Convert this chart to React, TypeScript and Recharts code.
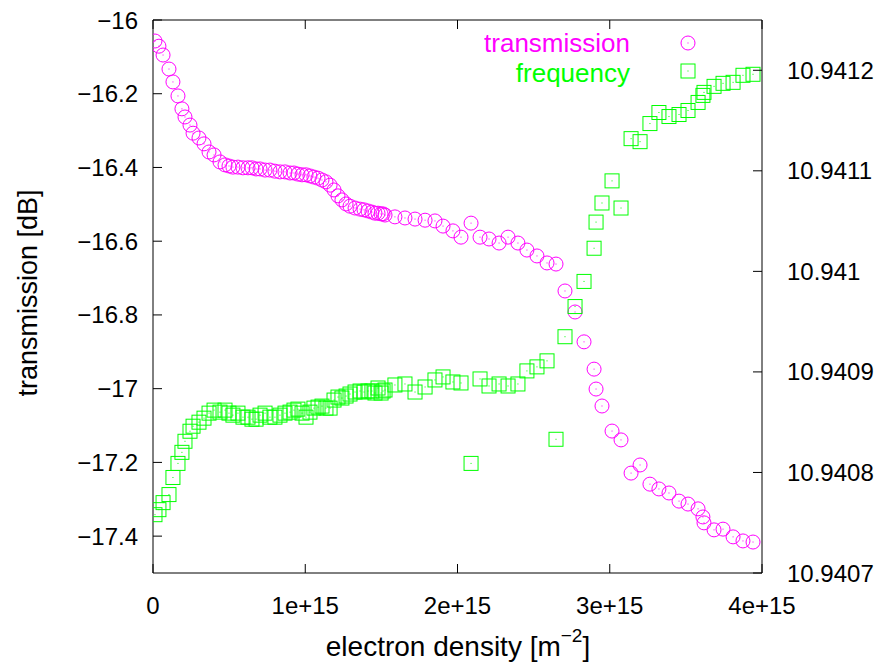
import React from 'react';
import {
  ScatterChart,
  Scatter,
  XAxis,
  YAxis,
  ReferenceArea,
} from 'recharts';

// electron density, in units of 1e15 m^-2 (shared by both series)
const DENSITY = [
  0.013, 0.039, 0.066, 0.105, 0.131, 0.164, 0.19, 0.21, 0.243, 0.263,
  0.302, 0.335, 0.368, 0.401, 0.44, 0.473, 0.499, 0.525, 0.558, 0.591,
  0.624, 0.65, 0.677, 0.703, 0.736, 0.768, 0.801, 0.834, 0.867, 0.9,
  0.926, 0.952, 0.979, 1.005, 1.031, 1.057, 1.084, 1.11, 1.136, 1.163,
  1.189, 1.215, 1.241, 1.268, 1.294, 1.327, 1.36, 1.386, 1.412, 1.438,
  1.458, 1.478, 1.498, 1.511, 1.524, 1.589, 1.655, 1.721, 1.787, 1.852,
  1.905, 1.97, 2.023, 2.089, 2.148, 2.207, 2.273, 2.332, 2.397, 2.456,
  2.522, 2.588, 2.647, 2.706, 2.772, 2.831, 2.897, 2.91, 2.949, 3.015,
  3.074, 3.14, 3.199, 3.264, 3.323, 3.389, 3.455, 3.514, 3.58, 3.612,
  3.619, 3.685, 3.744, 3.81, 3.875, 3.941,
];

// transmission [dB]
const TRANSMISSION = [
  -16.057, -16.071, -16.095, -16.133, -16.168, -16.206, -16.241, -16.263, -16.285, -16.307,
  -16.32, -16.336, -16.358, -16.366, -16.385, -16.393, -16.396, -16.399, -16.399, -16.401,
  -16.401, -16.401, -16.404, -16.404, -16.407, -16.407, -16.41, -16.412, -16.412, -16.415,
  -16.415, -16.418, -16.42, -16.42, -16.423, -16.426, -16.429, -16.434, -16.439, -16.448,
  -16.461, -16.477, -16.488, -16.499, -16.505, -16.51, -16.513, -16.515, -16.518, -16.521,
  -16.524, -16.524, -16.526, -16.526, -16.529, -16.534, -16.537, -16.54, -16.543, -16.545,
  -16.559, -16.572, -16.589, -16.551, -16.589, -16.594, -16.605, -16.589, -16.605, -16.624,
  -16.64, -16.659, -16.662, -16.735, -16.792, -16.873, -16.947, -17.001, -17.047, -17.115,
  -17.139, -17.229, -17.207, -17.259, -17.272, -17.283, -17.305, -17.313, -17.326, -17.348,
  -17.364, -17.383, -17.381, -17.402, -17.413, -17.416,
];

// resonance frequency (right axis)
const FREQUENCY = [
  10.940758, 10.940763, 10.94077, 10.940778, 10.940795, 10.940809, 10.94082, 10.940831, 10.940841, 10.940846,
  10.94085, 10.940854, 10.940859, 10.940862, 10.94086, 10.940862, 10.940859, 10.940857, 10.940859, 10.940855,
  10.940855, 10.940853, 10.940853, 10.940857, 10.940859, 10.940855, 10.940855, 10.940857, 10.940859, 10.94086,
  10.940862, 10.940863, 10.940859, 10.940855, 10.94086, 10.940864, 10.940865, 10.940866, 10.940864, 10.940864,
  10.940872, 10.940875, 10.940874, 10.940876, 10.940878, 10.94088, 10.940881, 10.94088, 10.940881, 10.940881,
  10.940879, 10.940884, 10.940879, 10.940881, 10.940882, 10.940887, 10.940888, 10.94088, 10.940885, 10.940892,
  10.940895, 10.94089, 10.940889, 10.940809, 10.940893, 10.940886, 10.940888, 10.940886, 10.940888, 10.940901,
  10.940905, 10.940911, 10.940833, 10.940935, 10.940965, 10.94099, 10.941023, 10.941049, 10.941068, 10.94109,
  10.941063, 10.941132, 10.941129, 10.941147, 10.941158, 10.941154, 10.941156, 10.94116, 10.941168, 10.941175,
  10.941178, 10.941184, 10.941187, 10.941188, 10.941195, 10.941196,
];

const X_TICKS = [0, 1, 2, 3, 4];
const LEFT_TICKS = [-17.4, -17.2, -17, -16.8, -16.6, -16.4, -16.2, -16];
const RIGHT_TICKS = [10.9407, 10.9408, 10.9409, 10.941, 10.9411, 10.9412];

const MAGENTA = '#ff00ff';
const GREEN = '#00ff00';
const FONT = '"Liberation Sans", Arial, Helvetica, sans-serif';
const FS = 24;
const TITLE_FS = 28;
const LEGEND_FS = 26;

// plot frame (px)
const W = 885;
const H = 663;
const PL = 153;
const PR = 762;
const PT = 20;
const PB = 573;
const TICK = 9;

const transmissionData = DENSITY.map((x, i) => ({ x, y: TRANSMISSION[i] }));
const frequencyData = DENSITY.map((x, i) => ({ x, y: FREQUENCY[i] }));

const minus = (s: string) => s.replace('-', '\u2212');

function CircleMark({ cx, cy }: any) {
  if (cx == null || cy == null) return null;
  return (
    <g>
      <circle cx={cx} cy={cy} r={7} fill="none" stroke={MAGENTA} strokeWidth={1} />
      <rect x={cx - 0.5} y={cy - 0.5} width={1} height={1} fill={MAGENTA} />
    </g>
  );
}

function SquareMark({ cx, cy }: any) {
  if (cx == null || cy == null) return null;
  return (
    <g>
      <rect x={cx - 7} y={cy - 7} width={14} height={14} fill="none" stroke={GREEN} strokeWidth={1} />
      <rect x={cx - 0.5} y={cy - 0.5} width={1} height={1} fill={GREEN} />
    </g>
  );
}

function XTick({ x, payload }: any) {
  const v = payload.value;
  const label = v === 0 ? '0' : `${v}e+15`;
  return (
    <g>
      <line x1={x} x2={x} y1={PB} y2={PB - TICK} stroke="#000" />
      <line x1={x} x2={x} y1={PT} y2={PT + TICK} stroke="#000" />
      <text x={x} y={PB + 32} textAnchor="middle" dominantBaseline="central" fontSize={FS} fontFamily={FONT} fill="#000">
        {label}
      </text>
    </g>
  );
}

function LeftTick({ y, payload }: any) {
  return (
    <g>
      <line x1={PL} x2={PL + TICK} y1={y} y2={y} stroke="#000" />
      <text x={PL - 15} y={y} textAnchor="end" dominantBaseline="central" fontSize={FS} fontFamily={FONT} fill="#000">
        {minus(String(payload.value))}
      </text>
    </g>
  );
}

function RightTick({ y, payload }: any) {
  return (
    <g>
      <line x1={PR} x2={PR - TICK} y1={y} y2={y} stroke="#000" />
      <text x={PR + 25} y={y} textAnchor="start" dominantBaseline="central" fontSize={FS} fontFamily={FONT} fill="#000">
        {String(payload.value)}
      </text>
    </g>
  );
}

export default function App() {
  return (
    <div style={{ position: 'absolute', left: 0, top: 0, width: W, height: H, background: '#fff' }}>
      <ScatterChart width={W} height={H} margin={{ top: PT, right: 0, bottom: 0, left: 0 }}>
        <XAxis
          type="number"
          dataKey="x"
          domain={[0, 4]}
          ticks={X_TICKS}
          allowDataOverflow
          height={H - PB}
          axisLine={false}
          tickLine={false}
          tick={<XTick />}
        />
        <YAxis
          yAxisId="left"
          type="number"
          dataKey="y"
          domain={[-17.5, -16]}
          ticks={LEFT_TICKS}
          allowDataOverflow
          width={PL}
          axisLine={false}
          tickLine={false}
          tick={<LeftTick />}
        />
        <YAxis
          yAxisId="right"
          orientation="right"
          type="number"
          dataKey="y"
          domain={[10.9407, 10.94125]}
          ticks={RIGHT_TICKS}
          allowDataOverflow
          width={W - PR}
          axisLine={false}
          tickLine={false}
          tick={<RightTick />}
        />
        <ReferenceArea
          yAxisId="left"
          x1={0}
          x2={4}
          y1={-17.5}
          y2={-16}
          fill="none"
          stroke="#000"
          strokeWidth={1}
          ifOverflow="visible"
        />
        <Scatter
          name="transmission"
          yAxisId="left"
          data={transmissionData}
          shape={<CircleMark />}
          isAnimationActive={false}
        />
        <Scatter
          name="frequency"
          yAxisId="right"
          data={frequencyData}
          shape={<SquareMark />}
          isAnimationActive={false}
        />
      </ScatterChart>
      <svg
        width={W}
        height={H}
        style={{ position: 'absolute', left: 0, top: 0, pointerEvents: 'none' }}
        fontFamily={FONT}
      >
        {/* legend */}
        <text x={630} y={43} textAnchor="end" dominantBaseline="central" fontSize={LEGEND_FS} fill={MAGENTA}>
          transmission
        </text>
        <CircleMark cx={688} cy={43} />
        <text x={630} y={73} textAnchor="end" dominantBaseline="central" fontSize={LEGEND_FS} fill={GREEN}>
          frequency
        </text>
        <SquareMark cx={688} cy={71} />
        {/* axis titles */}
        <text
          x={28}
          y={293}
          transform="rotate(-90 28 293)"
          textAnchor="middle"
          dominantBaseline="central"
          fontSize={27}
          fill="#000"
        >
          transmission [dB]
        </text>
        <text x={458} y={646} textAnchor="middle" dominantBaseline="central" fontSize={TITLE_FS} fill="#000">
          electron density [m
          <tspan dy={-11} fontSize={19}>{'\u22122'}</tspan>
          <tspan dy={11}>]</tspan>
        </text>
      </svg>
    </div>
  );
}
